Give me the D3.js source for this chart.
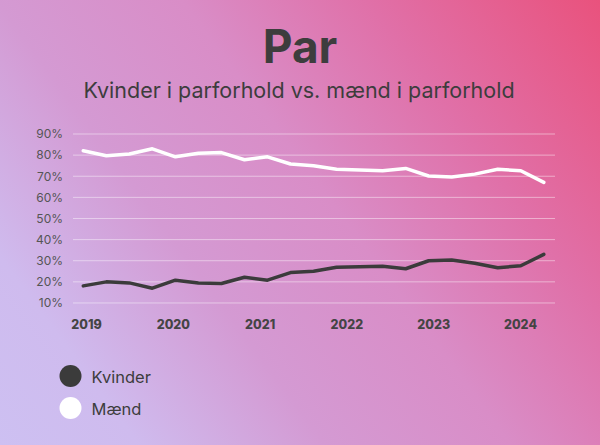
<!DOCTYPE html>
<html>
<head>
<meta charset="utf-8">
<script src="https://cdn.jsdelivr.net/npm/d3@7"></script>
<style>
html,body{margin:0;padding:0;}
svg{display:block;}
</style>
</head>
<body>
<svg id="chart" width="600" height="445"></svg>
<script>
const title = "Par";
const subtitle = "Kvinder i parforhold vs. mænd i parforhold";
const quarters = ["2019K1","2019K2","2019K3","2019K4","2020K1","2020K2","2020K3","2020K4","2021K1","2021K2","2021K3","2021K4","2022K1","2022K2","2022K3","2022K4","2023K1","2023K2","2023K3","2023K4","2024K1"];
const kvinder = [18.1,20.0,19.5,17.0,20.8,19.5,19.2,22.2,20.8,24.4,25.0,26.9,27.1,27.4,26.2,30.0,30.3,28.8,26.7,27.6,33.0];
const maend   = [82.1,79.7,80.5,83.0,79.2,80.9,81.2,77.8,79.2,75.8,75.0,73.3,72.9,72.6,73.7,70.1,69.6,71.0,73.3,72.6,67.1];
const yearLabels = ["2019","2020","2021","2022","2023","2024"];
const yTicks = [10,20,30,40,50,60,70,80,90];
const seriesNames = ["Kvinder","Mænd"];
const seriesColors = ["#3b3b3b","#ffffff"];

const W = 600, H = 445;
const svg = d3.select("#chart");
const font = "Inter, 'Open Sans', sans-serif";

// background gradient
const defs = svg.append("defs");
const grad = defs.append("linearGradient").attr("id","bg")
  .attr("gradientUnits","userSpaceOnUse")
  .attr("x1",0).attr("y1",H).attr("x2",W).attr("y2",0);
grad.append("stop").attr("offset","0%").attr("stop-color","#cdc0f2");
grad.append("stop").attr("offset","15%").attr("stop-color","#cfbbee");
grad.append("stop").attr("offset","35%").attr("stop-color","#d49ad3");
grad.append("stop").attr("offset","55%").attr("stop-color","#d98dc7");
grad.append("stop").attr("offset","75%").attr("stop-color","#e070a8");
grad.append("stop").attr("offset","100%").attr("stop-color","#e9527d");
svg.append("rect").attr("width",W).attr("height",H).attr("fill","url(#bg)");

// titles
svg.append("text").attr("x",300).attr("y",63).attr("text-anchor","middle")
  .attr("font-family",font).attr("font-weight",700).attr("font-size",46)
  .attr("fill","#3d3d3d").text(title);
svg.append("text").attr("x",299).attr("y",98).attr("text-anchor","middle")
  .attr("font-family",font).attr("font-size",21.5)
  .attr("fill","#3d3d3d").text(subtitle);

// scales
const x = d3.scalePoint().domain(quarters).range([83.3,543.8]);
const y = d3.scaleLinear().domain([0,90]).range([324.1,134]);
const xLab = d3.scalePoint().domain(yearLabels).range([86,520]);

// grid
svg.append("g").selectAll("line").data(yTicks).join("line")
  .attr("x1",73).attr("x2",555)
  .attr("y1",d=>y(d)).attr("y2",d=>y(d))
  .attr("stroke","rgba(255,255,255,0.45)").attr("stroke-width",1);

// y axis
const yAxis = svg.append("g").attr("transform","translate(63,0)")
  .call(d3.axisLeft(y).tickValues(yTicks).tickFormat(d=>d+"%").tickSize(0).tickPadding(0));
yAxis.select(".domain").remove();
yAxis.selectAll("text").attr("font-family",font).attr("font-size",12).attr("fill","#555");

// x axis
const xAxis = svg.append("g").attr("transform","translate(0,320)")
  .call(d3.axisBottom(xLab).tickSize(0).tickPadding(0));
xAxis.select(".domain").remove();
xAxis.selectAll("text").attr("font-family",font).attr("font-size",12.5).attr("font-weight",800).attr("fill","#444");

// lines
const line = d3.line().x((d,i)=>x(quarters[i])).y(d=>y(d));
[maend,kvinder].forEach((s,k)=>{
  svg.append("path").datum(s).attr("d",line).attr("fill","none")
    .attr("stroke", k===0 ? seriesColors[1] : seriesColors[0])
    .attr("stroke-width",3.5).attr("stroke-linejoin","round").attr("stroke-linecap","round");
});

// legend
const leg = svg.append("g").selectAll("g").data(seriesNames).join("g")
  .attr("transform",(d,i)=>`translate(70.5,${376+i*32})`);
leg.append("circle").attr("r",11).attr("fill",(d,i)=>seriesColors[i]);
leg.append("text").attr("x",21).attr("y",6.5).attr("font-family",font).attr("font-size",16.5)
  .attr("fill","#3d3d3d").text(d=>d);
</script>
</body>
</html>
